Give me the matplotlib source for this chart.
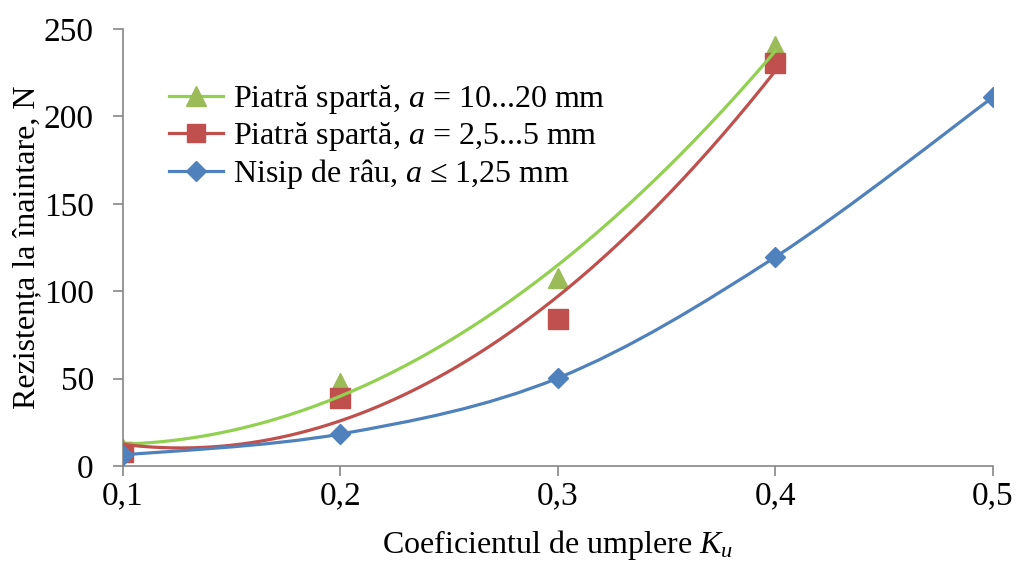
import numpy as np
import matplotlib
matplotlib.use("Agg")
import matplotlib.pyplot as plt
from matplotlib.lines import Line2D
from matplotlib.path import Path
from matplotlib.patches import PathPatch

plt.rcParams['font.family'] = ['Liberation Serif', 'DejaVu Serif']
plt.rcParams['mathtext.fontset'] = 'custom'
plt.rcParams['mathtext.rm'] = 'Liberation Serif'
plt.rcParams['mathtext.it'] = 'Liberation Serif:italic'

# date
k_piatra = [0.1, 0.2, 0.3, 0.4]
r_mare = [10, 47.5, 107.5, 240]      # piatra sparta 10...20 mm
r_mica = [8, 39, 84, 230.5]          # piatra sparta 2,5...5 mm
k_nisip = [0.1, 0.2, 0.3, 0.4, 0.5]
r_nisip = [6.3, 18.3, 50.3, 119.6, 211]

xticks = [0.1, 0.2, 0.3, 0.4, 0.5]
xtick_lbl = ["0,1", "0,2", "0,3", "0,4", "0,5"]
yticks = [0, 50, 100, 150, 200, 250]

c_green_line = "#92D050"
c_green = "#9BBB59"
c_red = "#C0504D"
c_blue = "#4F81BD"
gri = "#868686"


def linie_neteda(x, y):
    # linie netezita ca in Excel (Bezier, Catmull-Rom)
    x = np.asarray(x, float)
    y = np.asarray(y, float)
    verts = [(x[0], y[0])]
    codes = [Path.MOVETO]
    n = len(x)
    for i in range(n - 1):
        x0, y0 = (x[i - 1], y[i - 1]) if i > 0 else (x[i], y[i])
        x3, y3 = (x[i + 2], y[i + 2]) if i + 2 < n else (x[i + 1], y[i + 1])
        c1 = (x[i] + (x[i + 1] - x0) / 6, y[i] + (y[i + 1] - y0) / 6)
        c2 = (x[i + 1] - (x3 - x[i]) / 6, y[i + 1] - (y3 - y[i]) / 6)
        verts += [c1, c2, (x[i + 1], y[i + 1])]
        codes += [Path.CURVE4] * 3
    return Path(verts, codes)


fig = plt.figure(figsize=(10.18, 5.63), dpi=100)
ax = fig.add_axes([0.1208, 0.1723, 0.8546, 0.7762])

# curbe de tendinta (polinom grad 2)
xs = np.linspace(0.1, 0.4, 200)
p_mare = np.polyfit(k_piatra, r_mare, 2)
p_mica = np.polyfit(k_piatra, r_mica, 2)

ax.plot(k_piatra, r_mare, ls="none", marker="^", ms=14, color=c_green, zorder=2)
ax.plot(k_piatra, r_mica, ls="none", marker="s", ms=14, color=c_red, zorder=3)
ax.plot(xs, np.polyval(p_mare, xs), color=c_green_line, lw=2.3, zorder=4)
ax.plot(xs, np.polyval(p_mica, xs), color=c_red, lw=2.3, zorder=4)
ax.add_patch(PathPatch(linie_neteda(k_nisip, r_nisip), fill=False,
                       edgecolor=c_blue, lw=2.3, zorder=5))
ax.plot(k_nisip, r_nisip, ls="none", marker="D", ms=10, color=c_blue, zorder=6)

ax.set_xlim(0.1, 0.5)
ax.set_ylim(0, 250)
ax.set_xticks(xticks)
ax.set_xticklabels(xtick_lbl)
ax.set_yticks(yticks)
ax.tick_params(axis="both", labelsize=24, color=gri, length=7, width=1.2)
ax.tick_params(axis="x", pad=4)
ax.tick_params(axis="y", pad=14)
for s in ["top", "right"]:
    ax.spines[s].set_visible(False)
for s in ["left", "bottom"]:
    ax.spines[s].set_color(gri)
    ax.spines[s].set_linewidth(1.2)

ax.set_xlabel("Coeficientul de umplere $K_u$", fontsize=23, labelpad=12)
ax.set_ylabel("Rezistența la înaintare, N", fontsize=23, labelpad=2)

handles = [
    Line2D([], [], color=c_green_line, lw=2.3, marker="^", ms=14, mfc=c_green, mec=c_green),
    Line2D([], [], color=c_red, lw=2.3, marker="s", ms=13, mfc=c_red, mec=c_red),
    Line2D([], [], color=c_blue, lw=2.3, marker="D", ms=10, mfc=c_blue, mec=c_blue),
]
labels = [
    "Piatră spartă, $a$ = 10...20 mm",
    "Piatră spartă, $a$ = 2,5...5 mm",
    "Nisip de râu, $a$ ≤ 1,25 mm",
]
ax.legend(handles, labels, loc="upper left", bbox_to_anchor=(0.038, 0.905),
          frameon=False, fontsize=23, handlelength=1.7, handletextpad=0.3,
          labelspacing=0.12, borderaxespad=0)

plt.savefig("out.png", dpi=100)
